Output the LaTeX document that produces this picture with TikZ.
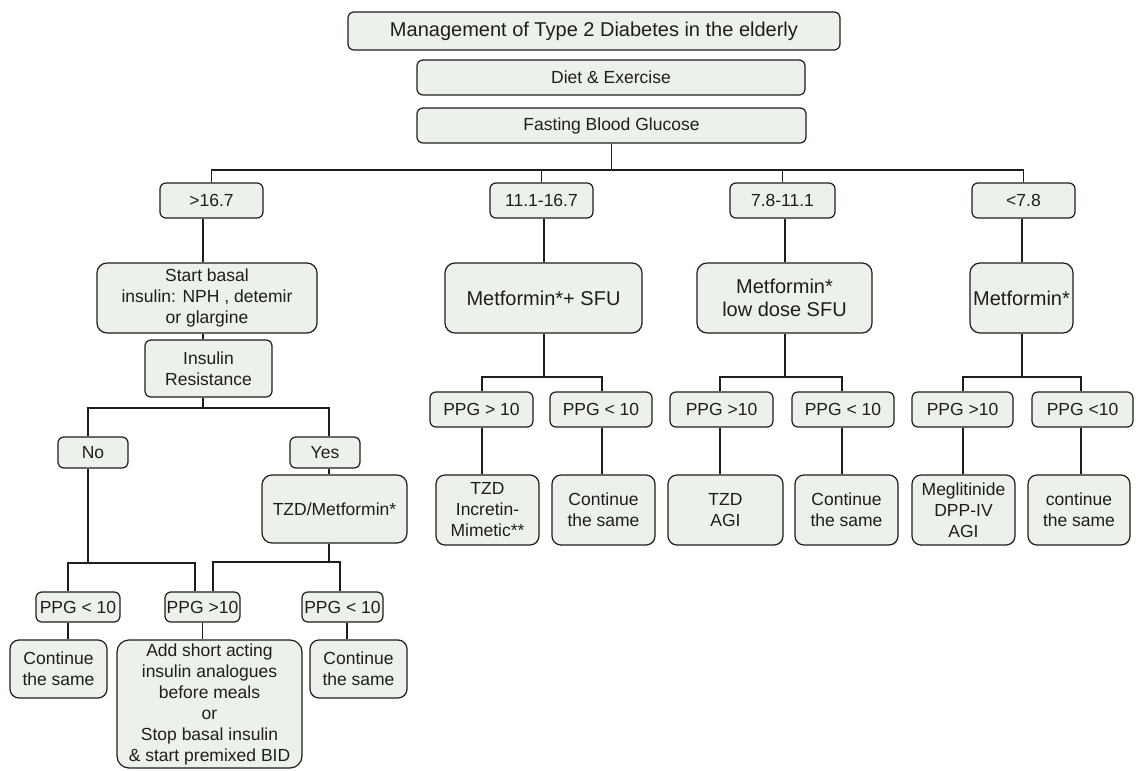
\documentclass[tikz,border=0pt]{standalone}
\usepackage{fontspec}
\setmainfont{Liberation Sans}
\definecolor{boxfill}{RGB}{236,241,234}
\definecolor{ink}{RGB}{30,30,30}
\begin{document}
\begin{tikzpicture}[x=1pt,y=-1pt,
  box/.style={draw=ink, line width=1.2pt, rounded corners=6pt, fill=boxfill,
    align=center, inner sep=0pt, text=ink, font=\fontsize{17.5}{21}\selectfont},
  bigfont/.style={font=\fontsize{20}{23}\selectfont},
  conn/.style={draw=ink, line width=1.8pt}]
\useasboundingbox[fill=white] (0,0) rectangle (1141,771);
% top
\node[box,bigfont,minimum width=492,minimum height=38] (title) at (594,31) {Management of Type 2 Diabetes in the elderly};
\node[box,minimum width=388,minimum height=35] (diet) at (611,77.5) {Diet \& Exercise};
\node[box,minimum width=389,minimum height=35] (fbg) at (611.5,125.5) {Fasting Blood Glucose};
% level 1
\node[box,minimum width=103,minimum height=35] (l1) at (211.5,200.5) {>16.7};
\node[box,minimum width=103,minimum height=35] (l2) at (541.5,200.5) {11.1-16.7};
\node[box,minimum width=105,minimum height=35] (l3) at (782.5,200.5) {7.8-11.1};
\node[box,minimum width=103,minimum height=35] (l4) at (1023.5,200.5) {<7.8};
% left branch
\node[box,rounded corners=10pt,minimum width=220,minimum height=70] (basal) at (207,298) {Start basal\\insulin: NPH , detemir\\or glargine};
\node[box,minimum width=127,minimum height=57] (ir) at (208.5,368.5) {Insulin\\Resistance};
\node[box,minimum width=70,minimum height=31] (no) at (93,452.5) {No};
\node[box,minimum width=70,minimum height=31] (yes) at (325,452.5) {Yes};
\node[box,rounded corners=10pt,minimum width=145,minimum height=68] (tzd) at (334.5,509) {TZD/Metformin*};
\node[box,minimum width=84,minimum height=30] (p1) at (78,607) {PPG < 10};
\node[box,minimum width=75,minimum height=30] (p2) at (202.5,607) {PPG >10};
\node[box,minimum width=81,minimum height=30] (p3) at (342.5,607) {PPG < 10};
\node[box,rounded corners=9pt,minimum width=97,minimum height=58] (c1) at (58.5,669) {Continue\\the same};
\node[box,rounded corners=12pt,minimum width=185,minimum height=128] (big) at (209.5,704) {Add short acting\\insulin analogues\\before meals\\or\\Stop basal insulin\\\& start premixed BID};
\node[box,rounded corners=9pt,minimum width=97,minimum height=58] (c2) at (358.5,669) {Continue\\the same};
% 11.1-16.7
\node[box,bigfont,rounded corners=10pt,minimum width=197,minimum height=70] (m1) at (543.5,298) {Metformin*+ SFU};
\node[box,minimum width=103,minimum height=35] (q1) at (481.5,409.5) {PPG > 10};
\node[box,minimum width=102,minimum height=35] (q2) at (601,409.5) {PPG < 10};
\node[box,rounded corners=9pt,minimum width=103,minimum height=70] (r1) at (487.5,510) {TZD\\Incretin-\\Mimetic**};
\node[box,rounded corners=9pt,minimum width=103,minimum height=70] (r2) at (603.5,510) {Continue\\the same};
% 7.8-11.1
\node[box,bigfont,rounded corners=10pt,minimum width=175,minimum height=70] (m2) at (784.5,298) {Metformin*\\low dose SFU};
\node[box,minimum width=103,minimum height=35] (q3) at (721.5,409.5) {PPG >10};
\node[box,minimum width=102,minimum height=35] (q4) at (843,409.5) {PPG < 10};
\node[box,rounded corners=9pt,minimum width=115,minimum height=70] (r3) at (725.5,510) {TZD\\AGI};
\node[box,rounded corners=9pt,minimum width=103,minimum height=70] (r4) at (846.5,510) {Continue\\the same};
% <7.8
\node[box,bigfont,rounded corners=10pt,minimum width=103,minimum height=70] (m3) at (1021.5,298) {Metformin*};
\node[box,minimum width=101,minimum height=35] (q5) at (962.5,409.5) {PPG >10};
\node[box,minimum width=101,minimum height=35] (q6) at (1082.5,409.5) {PPG <10};
\node[box,rounded corners=9pt,minimum width=103,minimum height=70] (r5) at (963.5,510) {Meglitinide\\DPP-IV\\AGI};
\node[box,rounded corners=9pt,minimum width=102,minimum height=70] (r6) at (1079,510) {continue\\the same};
% helper coordinates
\coordinate (bus) at (0,170);
\coordinate (busL) at (0,408);
\coordinate (busA) at (0,563);
\coordinate (busB) at (0,562);
\coordinate (busM) at (0,377);
\coordinate (xa) at (203,0);
\coordinate (x88) at (88,0);
\coordinate (x329) at (329,0);
\coordinate (x68) at (68,0);
\coordinate (x195) at (195,0);
\coordinate (x213) at (213,0);
\coordinate (x340) at (340,0);
\coordinate (x347) at (347,0);
\coordinate (x482) at (482,0);
\coordinate (x602) at (602,0);
\coordinate (x544) at (544,0);
\coordinate (x785) at (785,0);
\coordinate (x720) at (720,0);
\coordinate (x842) at (842,0);
\coordinate (x963) at (963,0);
\coordinate (x1022) at (1022,0);
\coordinate (x1081) at (1081,0);
% connectors
\path[conn] (fbg.south) -- (fbg.south |- bus);
\path[conn] (l1.north) |- (fbg.south |- bus) -| (l4.north);
\path[conn] (l2.north) -- (l2.north |- bus);
\path[conn] (l3.north) -- (l3.north |- bus);
% left branch
\path[conn] (xa |- l1.south) -- (xa |- basal.north);
\path[conn] (xa |- basal.south) -- (xa |- ir.north);
\path[conn] (xa |- ir.south) -- (xa |- busL);
\path[conn] (x88 |- no.north) |- (xa |- busL) -| (x329 |- yes.north);
\path[conn] (x329 |- yes.south) -- (x329 |- tzd.north);
\path[conn] (x88 |- no.south) -- (x88 |- busA);
\path[conn] (x68 |- p1.north) |- (x88 |- busA) -| (x195 |- p2.north);
\path[conn] (x329 |- tzd.south) -- (x329 |- busB);
\path[conn] (x213 |- p2.north) |- (x329 |- busB) -| (x340 |- p3.north);
\path[conn] (x68 |- p1.south) -- (x68 |- c1.north);
\path[conn] (p2.south) -- (p2.south |- big.north);
\path[conn] (x347 |- p3.south) -- (x347 |- c2.north);
% 11.1-16.7
\path[conn] (x544 |- l2.south) -- (x544 |- m1.north);
\path[conn] (x544 |- m1.south) -- (x544 |- busM);
\path[conn] (x482 |- q1.north) |- (x544 |- busM) -| (x602 |- q2.north);
\path[conn] (x482 |- q1.south) -- (x482 |- r1.north);
\path[conn] (x602 |- q2.south) -- (x602 |- r2.north);
% 7.8-11.1
\path[conn] (x785 |- l3.south) -- (x785 |- m2.north);
\path[conn] (x785 |- m2.south) -- (x785 |- busM);
\path[conn] (x720 |- q3.north) |- (x785 |- busM) -| (x842 |- q4.north);
\path[conn] (x720 |- q3.south) -- (x720 |- r3.north);
\path[conn] (x842 |- q4.south) -- (x842 |- r4.north);
% <7.8
\path[conn] (x1022 |- l4.south) -- (x1022 |- m3.north);
\path[conn] (x1022 |- m3.south) -- (x1022 |- busM);
\path[conn] (x963 |- q5.north) |- (x1022 |- busM) -| (x1081 |- q6.north);
\path[conn] (x963 |- q5.south) -- (x963 |- r5.north);
\path[conn] (x1081 |- q6.south) -- (x1081 |- r6.north);
\end{tikzpicture}
\end{document}
